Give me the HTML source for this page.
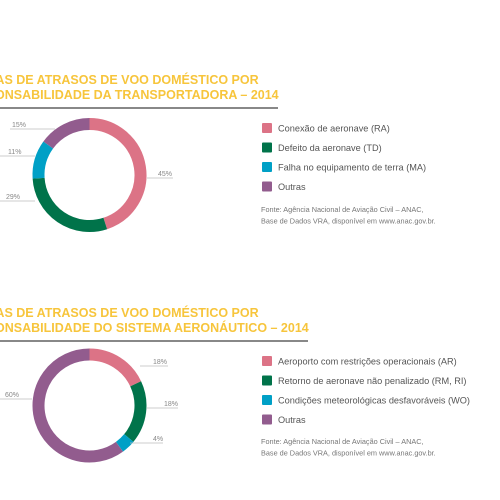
<!DOCTYPE html>
<html><head><meta charset="utf-8"><style>
body{margin:0;width:500px;height:500px;background:#fff;overflow:hidden;font-family:"Liberation Sans",sans-serif}
svg{position:absolute;left:0;top:0}
</style></head><body>
<svg width="500" height="500">
<g id="g1"></g>
<g id="g2"></g>
</svg>
<script>
const cats1=["Conexão de aeronave (RA)","Defeito da aeronave (TD)","Falha no equipamento de terra (MA)","Outras"];
const vals1=[45,29,11,15];
const cats2=["Aeroporto com restrições operacionais (AR)","Retorno de aeronave não penalizado (RM, RI)","Condições meteorológicas desfavoráveis (WO)","Outras"];
const vals2=[18,18,4,60];
const colors=["#dc7386","#00734a","#00a0c6","#925c8e"];
const NS="http://www.w3.org/2000/svg";
function mk(p,t,a){const e=document.createElementNS(NS,t);for(const k in a)e.setAttribute(k,a[k]);p.appendChild(e);return e;}
function txt(p,x,y,s,sz,fill,w,anchor){const t=mk(p,"text",{x:x,y:y,"font-size":sz,fill:fill,"font-weight":w||"normal","text-anchor":anchor||"start"});t.textContent=s;return t;}
function draw(g,cats,vals,cfg){
  txt(g,-40,cfg.ty,cfg.t1,12.5,"#f7c53c","bold");
  txt(g,-39,cfg.ty+15,cfg.t2,12.5,"#f7c53c","bold");
  const ul=mk(g,"line",{x1:0,x2:cfg.ulw,y1:cfg.ty+24,y2:cfg.ty+24,stroke:"#888","stroke-width":2});
  
  
  const cx=89.5,cy=cfg.cy,r=51,sw=12;
  const total=vals.reduce((a,b)=>a+b,0);
  let a0=0;
  vals.forEach((v,i)=>{
    const a1=a0+v/total*2*Math.PI;
    const x0=cx+r*Math.sin(a0),y0=cy-r*Math.cos(a0),x1=cx+r*Math.sin(a1),y1=cy-r*Math.cos(a1);
    const p=mk(g,"path",{d:`M${x0} ${y0}A${r} ${r} 0 ${a1-a0>Math.PI?1:0} 1 ${x1} ${y1}`,fill:"none",stroke:colors[i],"stroke-width":sw});
    
    
    const L=cfg.labels[i];
    const ln=mk(g,"line",{x1:L[1],x2:L[2],y1:L[3],y2:L[3],stroke:"#bbb","stroke-width":0.8});
    
    
    const t=txt(g,L[0],L[3]-2,v+"%",7,"#888");
    
    
    a0=a1;
  });
  cats.forEach((c,i)=>{
    const y=cfg.ly+i*19.5;
    const s=mk(g,"rect",{x:262,y:y-5,width:10,height:10,fill:colors[i],rx:1});
    
    
    const t=txt(g,278,y+3.5,c,9.2,"#555");
    
    
  });
  const s1=txt(g,261,cfg.sy,"Fonte: Agência Nacional de Aviação Civil – ANAC,",7.3,"#777");
  
  const s2=txt(g,261,cfg.sy+11.5,"Base de Dados VRA, disponível em www.anac.gov.br.",7.3,"#777");
  
}
draw(document.getElementById("g1"),cats1,vals1,{ty:84,t1:"CAUSAS DE ATRASOS DE VOO DOMÉSTICO POR",t2:"RESPONSABILIDADE DA TRANSPORTADORA – 2014",ulw:278,cy:175,
 labels:[[158,147,173,178],[6,0,35,201],[8,0,35,156],[12,10,55,129]],ly:128,sy:212});
draw(document.getElementById("g2"),cats2,vals2,{ty:317,t1:"CAUSAS DE ATRASOS DE VOO DOMÉSTICO POR",t2:"RESPONSABILIDADE DO SISTEMA AERONÁUTICO – 2014",ulw:308,cy:405.5,
 labels:[[153,140,168,366],[164,147,178,408],[153,130,163,443],[5,0,32,399]],ly:361,sy:444});
</script>
</body></html>
